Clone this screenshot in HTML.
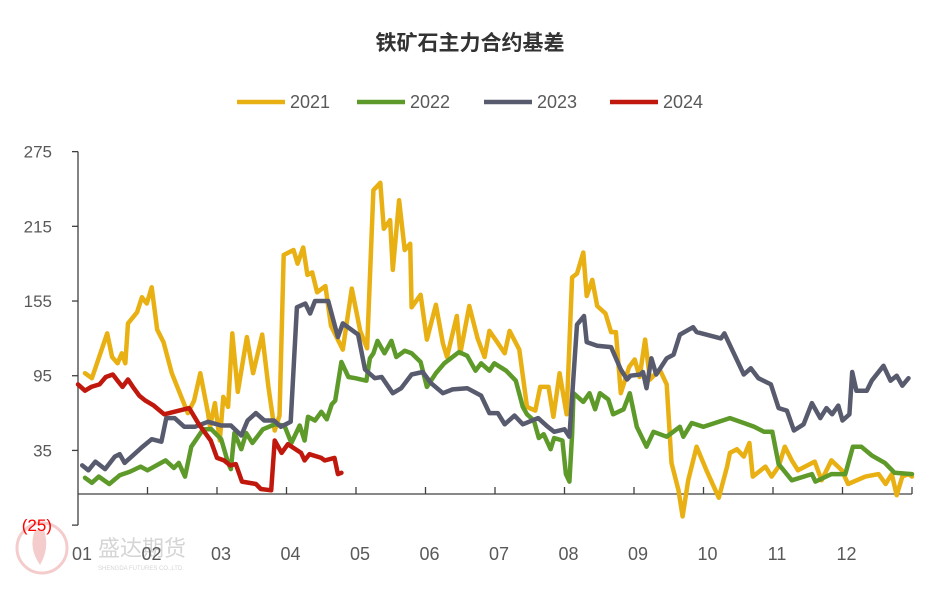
<!DOCTYPE html>
<html><head><meta charset="utf-8"><style>
body{margin:0;background:#fff;}
svg text{font-family:"Liberation Sans","Noto Sans CJK SC",sans-serif;}
</style></head><body>
<svg id="chart" width="940" height="585" viewBox="0 0 940 585" xmlns="http://www.w3.org/2000/svg">
<text x="470" y="50" text-anchor="middle" font-size="21" font-weight="bold" fill="#333">铁矿石主力合约基差</text>
<g opacity="0.35">
<circle cx="42" cy="548" r="25" fill="none" stroke="#e07070" stroke-width="3"/>
<path d="M35 530 Q28 548 40 565 Q50 548 44 530 Z" fill="#e07070"/>
<text x="98" y="556" font-size="22" fill="#888">盛达期货</text>
<text x="98" y="570" font-size="6" fill="#888">SHENGDA FUTURES CO.,LTD.</text>
</g>
<g id="legend"></g>
<g id="axes"></g>
<g id="series"></g>
</svg>
<script>
const monthLabels=["01","02","03","04","05","06","07","08","09","10","11","12"];
const yTicks=[275,215,155,95,35,-25];
const seriesNames=["2021","2022","2023","2024"];
const t2021=[0.1,0.2,0.42,0.49,0.57,0.63,0.68,0.72,0.85,0.92,0.99,1.06,1.14,1.23,1.35,1.58,1.67,1.76,1.87,1.9,1.97,2.04,2.09,2.16,2.22,2.3,2.43,2.52,2.65,2.74,2.83,2.9,2.96,3.1,3.16,3.24,3.3,3.37,3.44,3.56,3.64,3.81,3.94,4.06,4.16,4.25,4.35,4.4,4.49,4.53,4.62,4.7,4.78,4.8,4.93,5.02,5.15,5.25,5.31,5.45,5.5,5.63,5.75,5.85,5.92,6.02,6.14,6.21,6.35,6.46,6.58,6.65,6.77,6.84,6.93,7.03,7.11,7.18,7.27,7.32,7.4,7.47,7.59,7.67,7.74,7.81,7.93,8.01,8.08,8.16,8.23,8.37,8.47,8.54,8.64,8.7,8.78,8.9,9.05,9.22,9.34,9.38,9.48,9.58,9.66,9.71,9.89,9.98,10.08,10.17,10.27,10.36,10.6,10.7,10.84,10.99,11.08,11.33,11.52,11.62,11.71,11.78,11.86,11.95,12.0];
const v2021=[97,93,129,110,105,113,105,137,146,158,153,166,132,122,97,65,75,97,65,54,73,43,78,70,129,82,126,97,128,86,51,63,192,196,185,198,176,178,162,167,135,116,165,131,117,244,250,213,220,180,236,196,201,150,160,124,152,121,110,143,113,151,125,110,131,123,113,131,116,70,67,86,86,62,97,64,174,177,194,159,172,151,145,130,130,81,102,108,94,124,92,100,88,25,3,-18,11,38,18,-3,22,33,36,30,41,14,22,14,22,38,27,19,26,11,27,19,8,14,16,8,16,-1,14,16,14];
const t2022=[0.1,0.2,0.3,0.45,0.6,0.75,0.9,1.0,1.26,1.38,1.45,1.54,1.63,1.8,1.92,2.06,2.16,2.2,2.25,2.35,2.42,2.51,2.66,2.83,2.97,3.07,3.19,3.26,3.31,3.41,3.5,3.58,3.65,3.7,3.79,3.89,3.99,4.15,4.2,4.25,4.31,4.41,4.51,4.58,4.7,4.8,4.93,5.02,5.15,5.27,5.48,5.6,5.72,5.8,5.92,5.99,6.16,6.3,6.4,6.46,6.56,6.63,6.7,6.8,6.85,6.97,7.02,7.07,7.11,7.13,7.27,7.36,7.44,7.51,7.63,7.7,7.85,7.94,8.04,8.18,8.28,8.47,8.66,8.71,8.83,9.0,9.38,9.58,9.73,9.87,9.99,10.08,10.27,10.56,10.61,10.84,11.04,11.15,11.27,11.42,11.61,11.75,12.0];
const v2022=[13,9,14,8,15,18,22,19,27,21,25,14,38,52,52,44,25,20,49,36,49,41,52,56,55,41,55,43,62,59,66,60,72,75,106,94,93,91,109,113,123,113,123,110,115,113,106,86,97,105,114,111,99,105,99,105,99,91,70,64,59,45,48,36,45,43,16,10,48,81,74,81,68,81,76,64,68,81,54,38,50,46,54,46,57,54,61,57,54,50,50,24,11,16,10,16,16,38,38,31,25,17,16];
const t2023=[0.06,0.15,0.25,0.39,0.53,0.6,0.67,0.91,1.06,1.2,1.27,1.39,1.53,1.68,1.87,2.06,2.2,2.35,2.44,2.56,2.68,2.82,2.92,3.06,3.15,3.27,3.34,3.41,3.6,3.74,3.81,4.03,4.13,4.27,4.37,4.53,4.65,4.8,4.96,5.08,5.25,5.39,5.6,5.8,5.92,6.04,6.14,6.28,6.4,6.62,6.76,6.85,7.0,7.07,7.18,7.28,7.32,7.47,7.67,7.81,7.9,7.95,8.09,8.13,8.18,8.25,8.32,8.47,8.57,8.66,8.85,8.9,9.25,9.3,9.58,9.68,9.79,9.97,10.08,10.2,10.3,10.44,10.56,10.68,10.77,10.85,10.94,11.0,11.1,11.14,11.2,11.35,11.42,11.59,11.69,11.78,11.86,11.95];
const v2023=[23,19,26,20,30,32,25,37,44,42,61,61,54,54,58,55,55,47,59,65,59,59,54,58,150,153,145,155,155,126,137,128,100,93,94,81,85,96,98,89,81,84,85,79,65,65,56,63,56,61,54,50,52,46,136,143,122,119,118,100,92,95,96,98,85,109,96,109,112,128,134,130,125,129,96,101,93,88,69,67,51,56,73,61,69,64,71,59,64,98,83,83,91,103,91,95,87,93];
const t2024=[0.0,0.1,0.19,0.31,0.4,0.5,0.57,0.64,0.72,0.79,0.88,0.97,1.09,1.24,1.6,1.74,1.91,2.0,2.1,2.19,2.27,2.36,2.56,2.63,2.78,2.83,2.93,3.02,3.21,3.26,3.33,3.5,3.55,3.69,3.74,3.79];
const v2024=[88,83,86,88,94,96,91,86,92,86,79,75,71,64,69,56,43,29,27,23,24,10,8,4,3,43,33,40,33,27,32,29,27,29,16,17];
const colors=["#E8B012","#5E9A2A","#585A6E","#C0180C"];
const NS="http://www.w3.org/2000/svg";
const X0=78,X1=912,Y0=494,K=1.245;
function xs(t){return X0+t*(X1-X0)/12;}
function ys(v){return Y0-v*K;}
function el(tag,attrs,parent){const e=document.createElementNS(NS,tag);for(const k in attrs)e.setAttribute(k,attrs[k]);parent.appendChild(e);return e;}
const axes=document.getElementById('axes');
const yAxis=el('line',{x1:X0,x2:X0,y1:ys(275),y2:ys(-25),stroke:'#404040','stroke-width':1.3},axes);


const xAxis=el('line',{x1:X0,x2:X1,y1:Y0,y2:Y0,stroke:'#404040','stroke-width':1.3},axes);


yTicks.forEach(v=>{
  el('line',{x1:X0-6,x2:X0,y1:ys(v),y2:ys(v),stroke:'#404040','stroke-width':1.3},axes);
  const tx=el('text',{x:52,y:ys(v)+6,'text-anchor':'end','font-size':17,fill:v<0?'#FF0000':'#595959'},axes);
  tx.textContent=v<0?'('+(-v)+')':String(v);
  
  
});
for(let i=1;i<=12;i++){
  el('line',{x1:xs(i),x2:xs(i),y1:Y0-7,y2:Y0,stroke:'#404040','stroke-width':1.3},axes);
}
monthLabels.forEach((m,i)=>{
  const tx=el('text',{x:xs(i)+4,y:560,'text-anchor':'middle','font-size':18,fill:'#595959'},axes);
  tx.textContent=m;
  
  
});
const sg=document.getElementById('series');
const data=[[t2021,v2021],[t2022,v2022],[t2023,v2023],[t2024,v2024]];
data.forEach((d,i)=>{
  const pts=d[0].map((t,j)=>xs(t).toFixed(1)+','+ys(d[1][j]).toFixed(1)).join(' ');
  const p=el('polyline',{points:pts,fill:'none',stroke:colors[i],'stroke-width':4.5,'stroke-linejoin':'round','stroke-linecap':'round'},sg);
  
  
});
const lg=document.getElementById('legend');
const lx=[237,357,484,610];
seriesNames.forEach((n,i)=>{
  const g=el('g',{},lg);
  
  
  el('line',{x1:lx[i],x2:lx[i]+48,y1:102,y2:102,stroke:colors[i],'stroke-width':4.5},g);
  const tx=el('text',{x:lx[i]+53,y:108,'font-size':18,fill:'#595959'},g);
  tx.textContent=n;
});
</script>
</body></html>
